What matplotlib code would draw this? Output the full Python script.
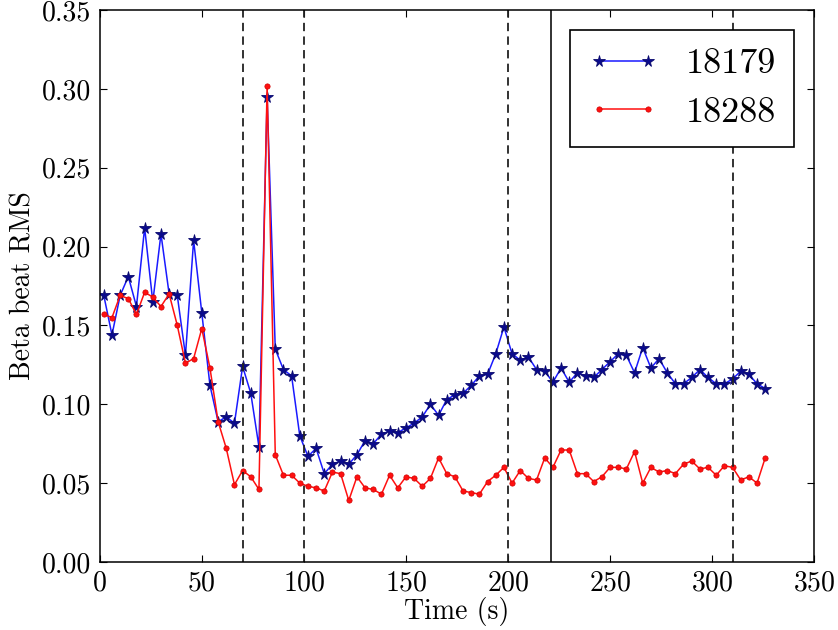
import matplotlib
matplotlib.use("Agg")
import matplotlib.pyplot as plt

plt.rcParams['font.family'] = 'serif'
plt.rcParams['font.serif'] = ['cmr10', 'DejaVu Serif']
plt.rcParams['mathtext.fontset'] = 'cm'
plt.rcParams['axes.formatter.use_mathtext'] = True
plt.rcParams['lines.scale_dashes'] = False

# acquisition times (s)
times = [2, 6, 10, 14, 18, 22, 26, 30, 34, 38,
         42, 46, 50, 54, 58, 62, 66, 70, 74, 78,
         82, 86, 90, 94, 98, 102, 106, 110, 114, 118,
         122, 126, 130, 134, 138, 142, 146, 150, 154, 158,
         162, 166, 170, 174, 178, 182, 186, 190, 194, 198,
         202, 206, 210, 214, 218, 222, 226, 230, 234, 238,
         242, 246, 250, 254, 258, 262, 266, 270, 274, 278,
         282, 286, 290, 294, 298, 302, 306, 310, 314, 318,
         322, 326]

rms_18179 = [0.169, 0.144, 0.169, 0.181, 0.162, 0.212, 0.165, 0.208, 0.170, 0.169,
             0.131, 0.204, 0.158, 0.112, 0.089, 0.092, 0.088, 0.124, 0.107, 0.073,
             0.295, 0.135, 0.122, 0.118, 0.080, 0.067, 0.072, 0.056, 0.062, 0.064,
             0.062, 0.068, 0.077, 0.075, 0.081, 0.083, 0.082, 0.085, 0.088, 0.092,
             0.100, 0.093, 0.103, 0.106, 0.107, 0.112, 0.118, 0.119, 0.132, 0.149,
             0.132, 0.128, 0.130, 0.122, 0.121, 0.114, 0.123, 0.114, 0.120, 0.118,
             0.117, 0.122, 0.127, 0.132, 0.131, 0.120, 0.136, 0.123, 0.129, 0.120,
             0.113, 0.113, 0.117, 0.122, 0.117, 0.113, 0.113, 0.116, 0.121, 0.119,
             0.113, 0.110]

rms_18288 = [0.157, 0.155, 0.169, 0.167, 0.157, 0.171, 0.168, 0.162, 0.170, 0.150,
             0.126, 0.129, 0.148, 0.123, 0.089, 0.072, 0.049, 0.058, 0.054, 0.046,
             0.302, 0.068, 0.055, 0.055, 0.050, 0.048, 0.047, 0.045, 0.057, 0.056,
             0.039, 0.054, 0.047, 0.046, 0.043, 0.055, 0.047, 0.054, 0.053, 0.048,
             0.053, 0.066, 0.056, 0.054, 0.045, 0.044, 0.043, 0.051, 0.055, 0.060,
             0.050, 0.058, 0.053, 0.052, 0.066, 0.060, 0.071, 0.071, 0.056, 0.056,
             0.051, 0.054, 0.060, 0.060, 0.059, 0.070, 0.050, 0.060, 0.057, 0.058,
             0.056, 0.062, 0.064, 0.059, 0.060, 0.055, 0.061, 0.060, 0.052, 0.054,
             0.050, 0.066]

dashed_marks = [70, 100, 200, 310]
solid_mark = 221

fig = plt.figure(figsize=(8.38, 6.30), dpi=100)
ax = fig.add_axes([0.119, 0.108, 0.8526, 0.876])

ax.plot(times, rms_18179, '-', color='#1a1aff', lw=1.1, marker='*', ms=8.5,
        mfc='#0a0a8c', mec='#0a0a6e', mew=0.6, label='18179')
ax.plot(times, rms_18288, '-', color='#ff1010', lw=1.1, marker='o', ms=3.8,
        mfc='#ff1010', mec='#d00000', mew=0.5, label='18288')

for x in dashed_marks:
    ax.axvline(x, color='#222222', lw=1.3, ls='--', dashes=(6, 3.8))
ax.axvline(solid_mark, color='#222222', lw=1.3)

ax.set_xlim(0, 350)
ax.set_ylim(0, 0.35)
ax.set_xticks([0, 50, 100, 150, 200, 250, 300, 350])
ax.set_yticks([0.00, 0.05, 0.10, 0.15, 0.20, 0.25, 0.30, 0.35])
ax.set_yticklabels(['0.00', '0.05', '0.10', '0.15', '0.20', '0.25', '0.30', '0.35'])
ax.tick_params(direction='in', top=True, right=True, length=5, width=0.8,
               labelsize=20, pad=6)
for s in ax.spines.values():
    s.set_linewidth(1.1)

ax.set_xlabel('Time (s)', fontsize=20, labelpad=0)
ax.set_ylabel('Beta beat RMS', fontsize=20, labelpad=4)

leg = ax.legend(loc='upper right', fontsize=26, numpoints=2, handlelength=1.95,
                handletextpad=0.75, borderpad=0.5, labelspacing=0.45,
                fancybox=False, framealpha=1, edgecolor='k', borderaxespad=0.55)
leg.get_frame().set_linewidth(1.2)

fig.savefig('out.png', dpi=100)
